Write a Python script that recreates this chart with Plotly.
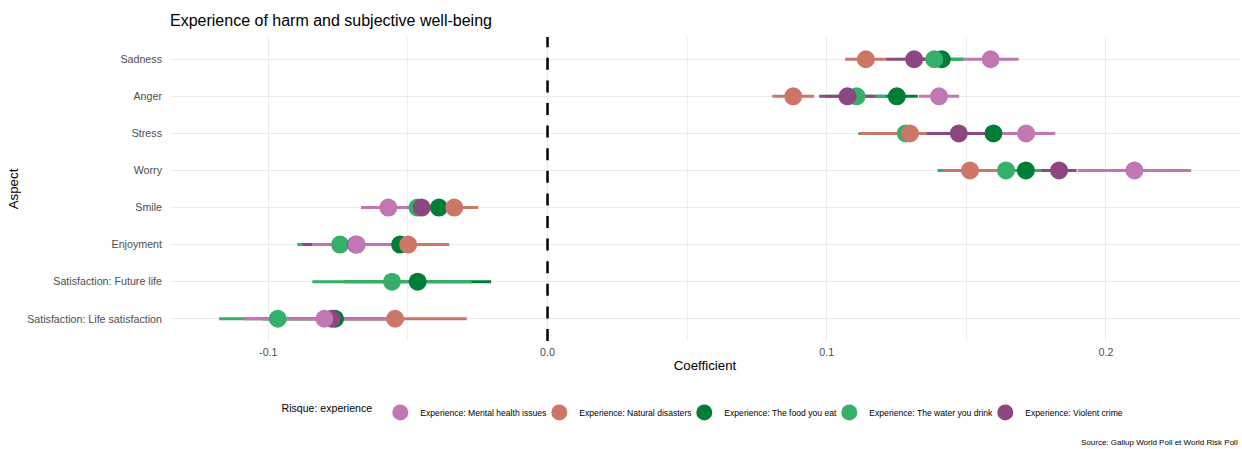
import plotly.graph_objects as go

aspects = [
    "Sadness",
    "Anger",
    "Stress",
    "Worry",
    "Smile",
    "Enjoyment",
    "Satisfaction: Future life",
    "Satisfaction: Life satisfaction",
]

# Coefficient and half-width of its confidence interval, one entry per aspect
mental_coef = [0.1587, 0.1402, 0.1714, 0.2102, -0.0570, -0.0683, None, -0.0799]
mental_ci = [0.0100, 0.0072, 0.0104, 0.0203, 0.0098, 0.0161, None, 0.0290]

natural_coef = [0.1140, 0.0880, 0.1298, 0.1513, -0.0334, -0.0499, None, -0.0546]
natural_ci = [0.0074, 0.0075, 0.0179, 0.0096, 0.0086, 0.0147, None, 0.0257]

food_coef = [0.1412, 0.1251, 0.1597, 0.1713, -0.0389, -0.0528, -0.0465, -0.0761]
food_ci = [0.0079, 0.0075, 0.0125, 0.0090, 0.0090, 0.0143, 0.0263, 0.0251]

water_coef = [0.1385, 0.1107, 0.1283, 0.1642, -0.0466, -0.0743, -0.0557, -0.0966]
water_ci = [0.0102, 0.0107, 0.0170, 0.0245, 0.0090, 0.0153, 0.0285, 0.0210]

violent_coef = [0.1313, 0.1074, 0.1473, 0.1832, -0.0451, -0.0686, None, -0.0773]
violent_ci = [0.0100, 0.0101, 0.0115, 0.0063, 0.0090, 0.0191, None, 0.0251]

x_ticks = [-0.1, 0.0, 0.1, 0.2]
x_tick_labels = ["-0.1", "0.0", "0.1", "0.2"]

# (label, coefficients, ci, colour, legend position, legend entry width);
# listed in drawing order
series = [
    ("Experience: The food you eat", food_coef, food_ci, "#007D36", 3, 100),
    ("Experience: The water you drink", water_coef, water_ci, "#35B06A", 4, 111),
    ("Experience: Natural disasters", natural_coef, natural_ci, "#CD7667", 2, 100),
    ("Experience: Violent crime", violent_coef, violent_ci, "#8C4681", 5, 100),
    ("Experience: Mental health issues", mental_coef, mental_ci, "#C077B3", 1, 114),
]

FONT = "Liberation Sans, Arial, Helvetica, sans-serif"
fig = go.Figure()


def present(coef, ci):
    rows = [(c, a, e) for c, a, e in zip(coef, aspects, ci) if c is not None]
    xs, ys, es = zip(*rows)
    return list(xs), list(ys), list(es)


# interval segments first, so every point sits above every segment
for name, coef, ci, color, rank, lw in series:
    xs, ys, es = present(coef, ci)
    fig.add_trace(go.Scatter(
        x=xs, y=ys, mode="markers",
        marker=dict(size=18, opacity=0),
        error_x=dict(type="data", array=es, color=color, thickness=3, width=0),
        showlegend=False, hoverinfo="skip",
    ))

for name, coef, ci, color, rank, lw in series:
    xs, ys, es = present(coef, ci)
    fig.add_trace(go.Scatter(
        x=xs, y=ys, mode="markers", name=name,
        legendrank=rank, legendwidth=lw,
        marker=dict(size=18, color=color, line=dict(width=0)),
    ))

# dashed reference line at zero
fig.add_shape(
    type="line", xref="x", yref="paper", x0=0, x1=0, y0=0, y1=1,
    line=dict(color="black", width=2.5, dash="12px,10.6px"),
)

fig.add_annotation(
    text="Source: Gallup World Poll et World Risk Poll",
    xref="paper", yref="paper", x=1, y=-0.3355, xanchor="right", yanchor="middle",
    showarrow=False, font=dict(size=8, color="black", family=FONT),
)

fig.update_layout(
    width=1242, height=449,
    margin=dict(l=170, r=2, t=37, b=108),
    paper_bgcolor="white", plot_bgcolor="white",
    font=dict(family=FONT, color="black"),
    title=dict(
        text="Experience of harm and subjective well-being",
        xref="container", x=170 / 1242, xanchor="left",
        yref="container", y=1 - 20.5 / 449, yanchor="middle",
        font=dict(size=16, color="black"),
    ),
    xaxis=dict(
        range=[-0.1352, 0.2480],
        tickvals=x_ticks, ticktext=x_tick_labels,
        showgrid=True, gridcolor="#ebebeb", gridwidth=1.2,
        zeroline=False, showline=False, ticks="",
        tickfont=dict(size=10.7, color="#4d4d4d"),
        ticklabelstandoff=3,
        title=dict(text="Coefficient", font=dict(size=13.3, color="black"), standoff=3),
        minor=dict(tickvals=[-0.05, 0.05, 0.15], showgrid=True,
                   gridcolor="#efefef", gridwidth=0.7),
    ),
    yaxis=dict(
        type="category", categoryorder="array", categoryarray=aspects,
        range=[7.6, -0.6],
        showgrid=True, gridcolor="#ebebeb", gridwidth=1.2,
        zeroline=False, showline=False, ticks="",
        tickfont=dict(size=10.7, color="#4d4d4d"),
        ticklabelstandoff=7,
        title=dict(text="Aspect", font=dict(size=13.3, color="black"), standoff=5),
    ),
    legend=dict(
        orientation="h", x=0.5, xanchor="center", y=-0.235, yanchor="middle",
        title=dict(text="Risque: experience", side="left",
                   font=dict(size=10.6, color="black")),
        font=dict(size=8.6, color="black"),
    ),
)

fig.write_html("out.html")
